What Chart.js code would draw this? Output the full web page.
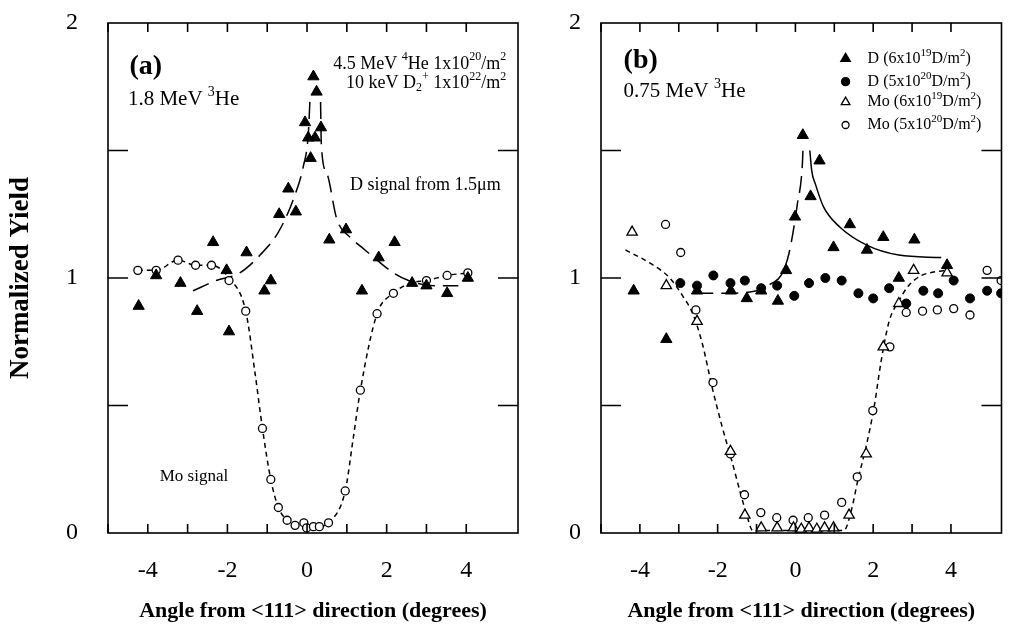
<!DOCTYPE html>
<html>
<head>
<meta charset="utf-8">
<script src="https://cdn.jsdelivr.net/npm/chart.js@4.4.1/dist/chart.umd.min.js"></script>
<style>
  html, body { margin: 0; padding: 0; background: #fff; }
  #wrapA { position: absolute; left: 0; top: 0; width: 530px; height: 635px; }
  #wrapB { position: absolute; left: 540px; top: 0; width: 469px; height: 635px; }
</style>
</head>
<body>
<div id="wrapA"><canvas id="chartA"></canvas></div>
<div id="wrapB"><canvas id="chartB"></canvas></div>
<script>
// ---- panel (a): 1.8 MeV 3He, [angle, normalized yield]
const aD = [[-4.23,0.89],[-3.79,1.01],[-3.18,0.98],[-2.76,0.87],[-2.36,1.14],[-2.02,1.03],[-1.96,0.79],
  [-1.52,1.10],[-1.07,0.95],[-0.91,0.99],[-0.70,1.25],[-0.47,1.35],[-0.28,1.26],[-0.05,1.61],[0.03,1.55],
  [0.09,1.47],[0.16,1.79],[0.20,1.55],[0.24,1.73],[0.35,1.59],[0.56,1.15],[0.98,1.19],[1.38,0.95],
  [1.80,1.08],[2.20,1.14],[2.64,0.98],[3.00,0.97],[3.52,0.94],[4.04,1.00]];
const aMo = [[-4.25,1.03],[-3.79,1.03],[-3.24,1.07],[-2.80,1.05],[-2.40,1.05],[-1.96,0.99],[-1.54,0.87],
  [-1.12,0.41],[-0.91,0.21],[-0.72,0.10],[-0.50,0.05],[-0.30,0.03],[-0.08,0.04],[-0.01,0.02],[0.16,0.025],
  [0.31,0.025],[0.54,0.04],[0.96,0.165],[1.34,0.56],[1.76,0.86],[2.17,0.94],[3.00,0.99],[3.52,1.01],[4.04,1.02]];
const aDFit = [[-2.86,0.95],[-2.28,0.99],[-1.69,1.02],[-1.18,1.09],[-0.72,1.18],[-0.34,1.31],[-0.09,1.44],
  [0.03,1.56],[0.08,1.72],[0.2,null],[0.34,1.69],[0.36,1.52],[0.5,1.41],[0.75,1.23],[1.08,1.16],[1.38,1.12],
  [1.76,1.07],[2.17,1.02],[2.55,0.99],[3.2,0.97],[3.8,0.97]];
const aMoFit = [[-4.25,1.03],[-3.79,1.03],[-3.24,1.07],[-2.8,1.05],[-2.4,1.05],[-1.96,1.0],[-1.54,0.87],
  [-1.3,0.62],[-1.12,0.41],[-0.91,0.21],[-0.72,0.10],[-0.5,0.05],[-0.3,0.03],[0,0.02],[0.3,0.025],[0.54,0.04],
  [0.96,0.165],[1.15,0.36],[1.34,0.56],[1.76,0.86],[2.17,0.94],[2.6,0.98],[3.0,0.99],[3.52,1.01],[4.04,1.02]];

// ---- panel (b): 0.75 MeV 3He
const bD19 = [[-4.16,0.95],[-3.32,0.76],[-2.53,0.95],[-1.66,0.95],[-1.25,0.92],[-0.88,0.95],[-0.45,0.91],
  [-0.24,1.03],[-0.01,1.24],[0.19,1.56],[0.39,1.32],[0.62,1.46],[0.98,1.12],[1.40,1.21],[1.84,1.11],
  [2.26,1.16],[2.66,1.00],[3.06,1.15],[3.90,1.05]];
const bD20 = [[-2.96,0.98],[-2.53,0.97],[-2.11,1.01],[-1.67,0.98],[-1.30,0.99],[-0.88,0.96],[-0.47,0.97],
  [-0.03,0.93],[0.35,0.98],[0.77,1.00],[1.19,0.99],[1.62,0.94],[2.00,0.92],[2.41,0.96],[2.85,0.90],
  [3.29,0.95],[3.67,0.94],[4.07,0.99],[4.49,0.92],[4.93,0.95],[5.29,0.94]];
const bMo19 = [[-4.20,1.18],[-3.32,0.97],[-2.53,0.83],[-1.67,0.32],[-1.30,0.07],[-0.88,0.02],[-0.47,0.02],
  [-0.05,0.02],[0.15,0.015],[0.35,0.02],[0.55,0.015],[0.75,0.02],[0.98,0.02],[1.38,0.07],[1.82,0.31],
  [2.26,0.73],[2.66,0.90],[3.04,1.03],[3.90,1.02]];
const bMo20 = [[-3.34,1.21],[-2.95,1.10],[-2.56,0.875],[-2.12,0.59],[-1.67,0.31],[-1.31,0.15],[-0.89,0.08],
  [-0.48,0.06],[-0.06,0.05],[0.33,0.06],[0.75,0.07],[1.19,0.12],[1.59,0.22],[1.99,0.48],[2.43,0.73],
  [2.85,0.865],[3.27,0.87],[3.65,0.875],[4.07,0.88],[4.49,0.855],[4.93,1.03],[5.29,0.99]];
const bDFitL = [[-2.55,0.94],[-1.8,0.94],[-1.0,0.95],[-0.6,0.98],[-0.37,1.01],[-0.16,1.1],[0.05,1.29],
  [0.18,1.45],[0.2,1.53]];
const bDFitR = [[0.37,1.50],[0.42,1.42],[0.51,1.37],[0.72,1.28],[1.14,1.20],[1.82,1.13],[2.66,1.09],[3.75,1.08]];
const bMoFit = [[-4.37,1.11],[-3.65,1.05],[-3.23,1.0],[-2.9,0.93],[-2.64,0.86],[-2.39,0.74],[-2.14,0.57],
  [-1.89,0.42],[-1.63,0.28],[-1.42,0.16],[-1.25,0.07],[-1.1,0.01],[1.25,0.01],[1.44,0.09],[1.61,0.21],
  [1.82,0.34],[2.03,0.50],[2.2,0.67],[2.41,0.83],[2.66,0.91],[2.91,0.97],[3.25,1.01],[3.84,1.03]];

const xTickLabels = [-4, -2, 0, 2, 4];
const yTickLabels = [0, 1, 2];
const yMinorTicks = [0.5, 1, 1.5];

const serif = "'Liberation Serif', 'Times New Roman', serif";

function xy(list) { return list.map(p => ({ x: p[0], y: p[1] })); }

// text like "10 keV D_{2}^{+}" with super/subscripts
function drawRich(ctx, text, x, y, size, bold) {
  const parts = text.split(/(\^\{[^}]*\}|_\{[^}]*\})/).filter(s => s.length);
  let cx = x;
  parts.forEach(p => {
    let mode = '', txt = p;
    if (p.startsWith('^{')) { mode = 'sup'; txt = p.slice(2, -1); }
    else if (p.startsWith('_{')) { mode = 'sub'; txt = p.slice(2, -1); }
    const s = mode ? Math.round(size * 0.68) : size;
    ctx.font = (bold ? 'bold ' : '') + s + 'px ' + serif;
    const dy = mode === 'sup' ? -size * 0.36 : (mode === 'sub' ? size * 0.25 : 0);
    ctx.fillText(txt, cx, y + dy);
    cx += ctx.measureText(txt).width;
  });
}

const panelPlugin = {
  id: 'panel',
  afterDatasetsDraw(chart, args, opts) {
    const { ctx, chartArea: a, scales } = chart;
    const sx = scales.x, sy = scales.y;
    ctx.save();
    ctx.strokeStyle = '#000';
    ctx.lineWidth = 1.6;
    ctx.strokeRect(a.left, a.top, a.right - a.left, a.bottom - a.top);
    ctx.beginPath();
    sx.ticks.filter(t => Number.isInteger(t.value)).forEach(t => {
      const px = sx.getPixelForValue(t.value);
      ctx.moveTo(px, a.bottom); ctx.lineTo(px, a.bottom - 9);
      ctx.moveTo(px, a.top); ctx.lineTo(px, a.top + 9);
    });
    yMinorTicks.forEach(v => {
      const py = sy.getPixelForValue(v);
      ctx.moveTo(a.left, py); ctx.lineTo(a.left + 20, py);
      ctx.moveTo(a.right, py); ctx.lineTo(a.right - 20, py);
    });
    ctx.stroke();

    ctx.fillStyle = '#000';
    ctx.textAlign = 'left';
    ctx.textBaseline = 'middle';
    (opts.notes || []).forEach(n => {
      drawRich(ctx, n.text, sx.getPixelForValue(n.x), sy.getPixelForValue(n.y), n.size, n.bold);
    });
    (opts.legend || []).forEach(l => {
      const px = sx.getPixelForValue(l.x), py = sy.getPixelForValue(l.y);
      ctx.fillStyle = l.fill;
      ctx.strokeStyle = '#000';
      ctx.lineWidth = 1.3;
      Chart.helpers.drawPoint(ctx, { pointStyle: l.style, radius: l.radius, borderWidth: 1.3, rotation: 0 }, px, py);
      ctx.fillStyle = '#000';
      drawRich(ctx, l.text, px + 22, py, 16, false);
    });
    ctx.restore();
  }
};

function markers(data, style, radius, filled) {
  return {
    data: xy(data), showLine: false, pointStyle: style, pointRadius: radius, pointHoverRadius: radius,
    pointBackgroundColor: filled ? '#000' : '#fff', pointBorderColor: '#000', pointBorderWidth: filled ? 1 : 1.3
  };
}
function curve(data, dash) {
  return {
    data: xy(data), showLine: true, pointRadius: 0, borderColor: '#000', borderWidth: 1.5,
    borderDash: dash, tension: 0.4, cubicInterpolationMode: 'monotone', spanGaps: false, fill: false
  };
}

function makeOptions(yWidth, yPad, showTitle, rightPad, plugin) {
  return {
    responsive: true, maintainAspectRatio: false, animation: false,
    layout: { padding: { top: 23, right: rightPad, left: 0, bottom: 0 } },
    plugins: { legend: { display: false }, tooltip: { enabled: false }, panel: plugin },
    scales: {
      x: {
        type: 'linear', min: -5, max: 5.3,
        grid: { display: false, drawTicks: false }, border: { display: false },
        ticks: {
          stepSize: 1, autoSkip: false, maxRotation: 0, padding: 23, color: '#000',
          font: { family: serif, size: 24 },
          callback: v => xTickLabels.includes(v) ? String(v) : ''
        },
        title: {
          display: true, text: 'Angle from <111> direction (degrees)', color: '#000',
          font: { family: serif, size: 22, weight: 'bold' }, padding: { top: 0, bottom: 10 }
        },
        afterFit: s => { s.height = 102; s.paddingLeft = 0; s.paddingRight = 0; }
      },
      y: {
        min: 0, max: 2,
        grid: { display: false, drawTicks: false }, border: { display: false },
        ticks: {
          stepSize: 0.5, autoSkip: false, padding: yPad, color: '#000',
          font: { family: serif, size: 24 },
          callback: v => yTickLabels.includes(v) ? String(v) : ''
        },
        title: {
          display: showTitle, text: 'Normalized Yield', color: '#000',
          font: { family: serif, size: 27, weight: 'bold' }, padding: { top: 5, bottom: 0 }
        },
        afterFit: s => { s.width = yWidth; s.paddingTop = 0; s.paddingBottom = 0; }
      }
    }
  };
}

new Chart(document.getElementById('chartA'), {
  type: 'scatter',
  data: {
    datasets: [
      markers(aD, 'triangle', 6.5, true),
      markers(aMo, 'circle', 4, false),
      curve(aDFit, [17, 8]),
      curve(aMoFit, [5, 4])
    ]
  },
  options: makeOptions(108, 30, true, 12, {
    notes: [
      { text: '(a)', x: -4.46, y: 1.83, size: 28, bold: true },
      { text: '1.8 MeV ^{3}He', x: -4.5, y: 1.70, size: 21 },
      { text: '4.5 MeV ^{4}He 1x10^{20}/m^{2}', x: 0.66, y: 1.84, size: 18 },
      { text: '10 keV D_{2}^{+} 1x10^{22}/m^{2}', x: 0.98, y: 1.765, size: 18 },
      { text: 'D signal from 1.5\u03bcm', x: 1.08, y: 1.365, size: 18 },
      { text: 'Mo signal', x: -3.7, y: 0.22, size: 17 }
    ]
  }),
  plugins: [panelPlugin]
});

new Chart(document.getElementById('chartB'), {
  type: 'scatter',
  data: {
    datasets: [
      markers(bD19, 'triangle', 6.5, true),
      markers(bD20, 'circle', 4.5, true),
      markers(bMo19, 'triangle', 6, false),
      markers(bMo20, 'circle', 4, false),
      curve(bDFitL, [17, 8]),
      curve(bDFitR, []),
      curve(bMoFit, [5, 4])
    ]
  },
  options: makeOptions(61, 20, false, 1, {
    notes: [
      { text: '(b)', x: -4.42, y: 1.85, size: 28, bold: true },
      { text: '0.75 MeV ^{3}He', x: -4.42, y: 1.73, size: 21 }
    ],
    legend: [
      { text: 'D (6x10^{19}D/m^{2})', x: 1.29, y: 1.86, style: 'triangle', radius: 5.5, fill: '#000' },
      { text: 'D (5x10^{20}D/m^{2})', x: 1.29, y: 1.77, style: 'circle', radius: 4, fill: '#000' },
      { text: 'Mo (6x10^{19}D/m^{2})', x: 1.29, y: 1.69, style: 'triangle', radius: 5, fill: '#fff' },
      { text: 'Mo (5x10^{20}D/m^{2})', x: 1.29, y: 1.60, style: 'circle', radius: 3.5, fill: '#fff' }
    ]
  }),
  plugins: [panelPlugin]
});
</script>
</body>
</html>
